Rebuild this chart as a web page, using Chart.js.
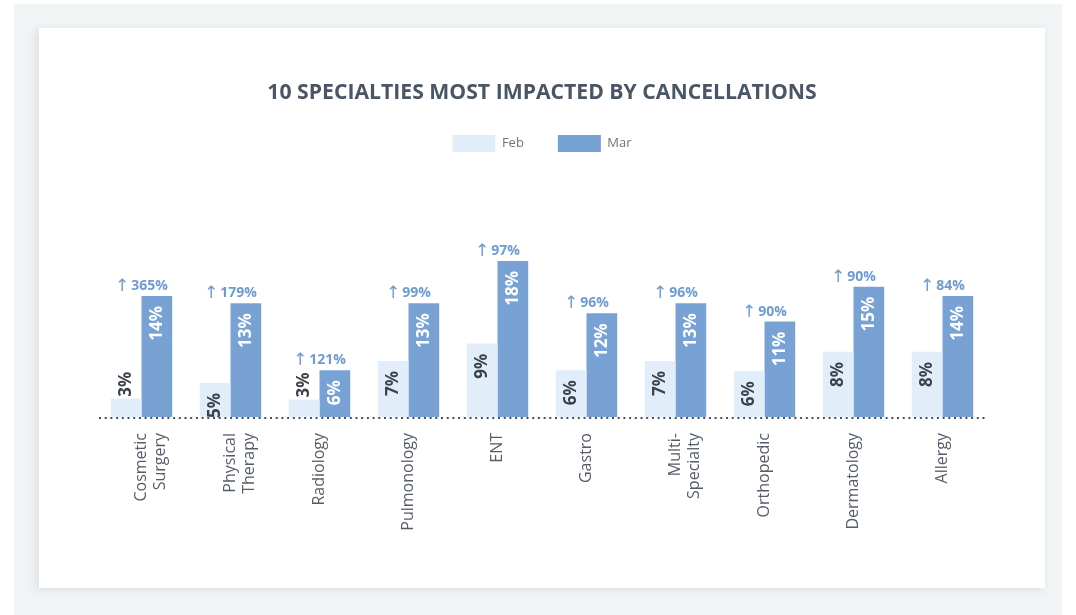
<!DOCTYPE html>
<html>
<head>
<meta charset="utf-8">
<script src="https://cdn.jsdelivr.net/npm/chart.js@4.4.1/dist/chart.umd.min.js"></script>
<style>
  html, body { margin: 0; padding: 0; background: #fff; }
  body { width: 1076px; height: 615px; position: relative; overflow: hidden; }
  #panel { position: absolute; left: 14px; top: 4px; width: 1048px; height: 615px; background: #f1f4f5; }
  #card { position: absolute; left: 39px; top: 28px; width: 1006px; height: 560px; background: #fff;
          box-shadow: -3px 2px 8px rgba(120, 130, 140, 0.18); }
  #chart { position: absolute; left: 0; top: 0; }
</style>
</head>
<body>
<div id="panel"></div>
<div id="card"></div>
<canvas id="chart" width="1076" height="615"></canvas>
<script>
const specialties = [
  ["Cosmetic", "Surgery"], ["Physical", "Therapy"], "Radiology", "Pulmonology", "ENT",
  "Gastro", ["Multi-", "Specialty"], "Orthopedic", "Dermatology", "Allergy"
];
const febShare = [3.0, 4.7, 2.9, 7.1, 9.0, 6.1, 7.1, 6.0, 8.1, 8.1];
const marShare = [14.2, 13.4, 6.1, 13.4, 18.0, 12.3, 13.4, 11.4, 15.2, 14.2];
const increase = [365, 179, 121, 99, 97, 96, 96, 90, 90, 84];

const FONT = "'Open Sans', 'Noto Sans', sans-serif";

// dotted baseline under the bars
const dottedAxis = {
  id: "dottedAxis",
  afterDatasetsDraw(chart) {
    const { ctx, chartArea } = chart;
    ctx.save();
    ctx.strokeStyle = "#4a4f57";
    ctx.lineWidth = 2;
    ctx.setLineDash([2, 3.7]);
    ctx.beginPath();
    ctx.moveTo(chartArea.left + 2, chartArea.bottom + 1);
    ctx.lineTo(chartArea.right, chartArea.bottom + 1);
    ctx.stroke();
    ctx.restore();
  }
};

// value labels inside the bars + the "↑ x%" increase above each pair
const barLabels = {
  id: "barLabels",
  afterDatasetsDraw(chart) {
    const ctx = chart.ctx;
    ctx.save();
    chart.data.datasets.forEach((ds, di) => {
      const meta = chart.getDatasetMeta(di);
      meta.data.forEach((bar, i) => {
        const text = Math.round(ds.data[i]) + "%";
        ctx.font = "bold 17px " + FONT;
        const w = ctx.measureText(text).width;
        const h = bar.base - bar.y;
        ctx.save();
        ctx.translate(bar.x, 0);
        ctx.rotate(-Math.PI / 2);
        ctx.textBaseline = "middle";
        if (h >= w + 8) {
          const top = Math.min(bar.y + 10, bar.base - 6 - w);
          ctx.fillStyle = di === 0 ? "#3b424c" : "#ffffff";
          ctx.textAlign = "right";
          ctx.fillText(text, -top, 0);
        } else {
          ctx.fillStyle = "#3b424c";
          ctx.textAlign = "left";
          ctx.fillText(text, -(bar.y - 2), 0);
        }
        ctx.restore();
      });
    });
    const marMeta = chart.getDatasetMeta(1);
    const xScale = chart.scales.x;
    ctx.fillStyle = "#6f9bd3";
    ctx.textBaseline = "alphabetic";
    ctx.textAlign = "left";
    const arrowFont = "17px 'DejaVu Sans', sans-serif";
    const numFont = "bold 14px " + FONT;
    marMeta.data.forEach((bar, i) => {
      const num = increase[i] + "%";
      ctx.font = arrowFont;
      const aw = ctx.measureText("\u2191").width;
      ctx.font = numFont;
      const nw = ctx.measureText(num).width;
      const gap = 2;
      const x0 = xScale.getPixelForValue(i) - (aw + gap + nw) / 2;
      const y = bar.y - 6;
      ctx.font = arrowFont;
      ctx.fillText("\u2191", x0, y + 1);
      ctx.font = numFont;
      ctx.fillText(num, x0 + aw + gap, y);
    });
    ctx.restore();
  }
};

new Chart(document.getElementById("chart"), {
  type: "bar",
  data: {
    labels: specialties,
    datasets: [
      { label: "Feb", data: febShare, backgroundColor: "#e1eef9" },
      { label: "Mar", data: marShare, backgroundColor: "#78a2d4" }
    ]
  },
  options: {
    responsive: false,
    animation: false,
    layout: { padding: { left: 97, right: 89, top: 0, bottom: 0 } },
    datasets: { bar: { categoryPercentage: 0.69, barPercentage: 1.0 } },
    plugins: {
      title: {
        display: true,
        text: "10 SPECIALTIES MOST IMPACTED BY CANCELLATIONS",
        color: "#4a5665",
        font: { family: FONT, size: 21.2, weight: "bold", lineHeight: 0.8 },
        padding: { top: 84, bottom: 0 }
      },
      legend: {
        labels: {
          boxWidth: 43,
          boxHeight: 17,
          padding: 34,
          color: "#6b7480",
          font: { family: FONT, size: 13 }
        }
      },
      tooltip: { enabled: false }
    },
    scales: {
      x: {
        grid: { display: false },
        border: { display: false },
        ticks: {
          color: "#555d68",
          font: { family: FONT, size: 16 },
          minRotation: 90,
          maxRotation: 90,
          padding: 8
        },
        afterFit: s => { s.height = 198; }
      },
      y: { display: false, min: 1, max: 28.8 }
    }
  },
  plugins: [dottedAxis, barLabels]
});
</script>
</body>
</html>
